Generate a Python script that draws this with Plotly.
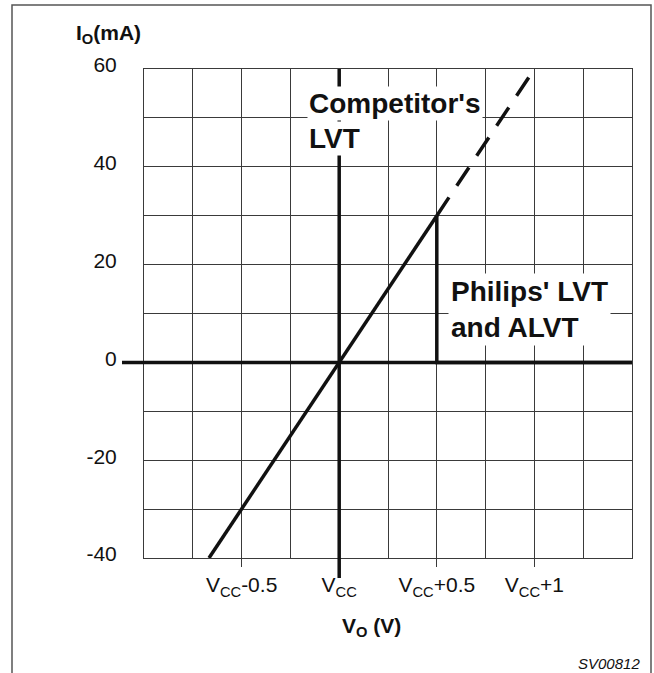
import plotly.graph_objects as go

# Data (x in volts relative to VCC, y in mA)
competitor_v = [-0.667, 0.5]
competitor_i = [-40, 30]
competitor_ext_v = [0.5, 1.0]
competitor_ext_i = [30, 60]
philips_v = [0.5, 0.5, 1.5]
philips_i = [30, 0, 0]

x_tickvals = [-0.5, 0, 0.5, 1]
x_ticktext = ["V<sub>CC</sub>-0.5", "V<sub>CC</sub>", "V<sub>CC</sub>+0.5", "V<sub>CC</sub>+1"]
y_tickvals = [-40, -20, 0, 20, 40, 60]
y_ticktext = ["-40", "-20", "0", "20", "40", "60"]

FONT = "Liberation Sans, Arial, Helvetica, sans-serif"
GRID = "#3a3a3a"
LW = 3.5
TF = 21

fig = go.Figure()
fig.add_trace(go.Scatter(x=competitor_v, y=competitor_i, mode="lines",
                         line=dict(color="#111", width=LW), showlegend=False))
fig.add_trace(go.Scatter(x=competitor_ext_v, y=competitor_ext_i, mode="lines",
                         line=dict(color="#111", width=LW, dash="22px,14px"), showlegend=False))
fig.add_trace(go.Scatter(x=philips_v, y=philips_i, mode="lines",
                         line=dict(color="#111", width=LW), showlegend=False))

# thick axes through origin
fig.add_shape(type="line", xref="paper", yref="y", x0=-22/488, x1=1, y0=0, y1=0,
              line=dict(color="#111", width=LW))
fig.add_shape(type="line", xref="x", yref="paper", x0=0, x1=0, y0=-20/489, y1=1,
              line=dict(color="#111", width=LW))

# outer frame (open at bottom)
L, R, T, B = (12-144)/488, (651-144)/488, 1+(69-5)/489, -(673-558)/489
fig.add_shape(type="path", xref="paper", yref="paper",
              path=f"M {L} {B} L {L} {T} L {R} {T} L {R} {B}",
              line=dict(color="#555", width=1.5))

fig.add_annotation(x=-0.165, y=56.6, xref="x", yref="y", xanchor="left", yanchor="top",
                   text="<b>Competitor's</b>", showarrow=False, align="left",
                   bgcolor="white", borderpad=1,
                   font=dict(family=FONT, size=28, color="#111"))
fig.add_annotation(x=-0.165, y=49.3, xref="x", yref="y", xanchor="left", yanchor="top",
                   text="<b>LVT</b>", showarrow=False, align="left",
                   bgcolor="white", borderpad=1,
                   font=dict(family=FONT, size=28, color="#111"))
fig.add_annotation(x=0.555, y=18.2, xref="x", yref="y", xanchor="left", yanchor="top",
                   text="<b>Philips' LVT<br>and ALVT</b>", showarrow=False, align="left",
                   bgcolor="white", borderpad=2,
                   font=dict(family=FONT, size=28, color="#111"))

fig.add_annotation(x=(74-144)/488, y=1+(69-34)/489, xref="paper", yref="paper",
                   xanchor="left", yanchor="middle", showarrow=False,
                   text="<b>I<sub>O</sub>(mA)</b>", font=dict(family=FONT, size=TF, color="#111"))
fig.add_annotation(x=(340-144)/488, y=-(627-558)/489, xref="paper", yref="paper",
                   xanchor="left", yanchor="middle", showarrow=False,
                   text="<b>V<sub>O</sub> (V)</b>", font=dict(family=FONT, size=TF, color="#111"))
fig.add_annotation(x=(642-144)/488, y=-(663-558)/489, xref="paper", yref="paper",
                   xanchor="right", yanchor="middle", showarrow=False,
                   text="<i>SV00812</i>", font=dict(family=FONT, size=15, color="#111"))

fig.update_xaxes(range=[-1, 1.5], tickmode="array", tickvals=x_tickvals, ticktext=x_ticktext,
                 ticks="outside", ticklen=8, tickwidth=1, tickcolor=GRID,
                 showgrid=True, gridcolor=GRID, gridwidth=1,
                 minor=dict(dtick=0.25, tick0=0, showgrid=True, gridcolor=GRID, gridwidth=1, ticks=""),
                 showline=True, mirror=True, linecolor=GRID, linewidth=1, zeroline=False,
                 tickfont=dict(family=FONT, size=TF, color="#111"), fixedrange=True)
fig.update_yaxes(range=[-40, 60], tickmode="array", tickvals=y_tickvals, ticktext=y_ticktext,
                 ticks="outside", ticklen=22, tickcolor="rgba(0,0,0,0)", ticklabelshift=-4,
                 showgrid=True, gridcolor=GRID, gridwidth=1,
                 minor=dict(dtick=10, tick0=0, showgrid=True, gridcolor=GRID, gridwidth=1, ticks=""),
                 showline=True, mirror=True, linecolor=GRID, linewidth=1, zeroline=False,
                 tickfont=dict(family=FONT, size=TF, color="#111"), fixedrange=True)

fig.update_layout(width=654, height=673, margin=dict(l=144, r=22, t=69, b=115),
                  plot_bgcolor="white", paper_bgcolor="white", showlegend=False)

fig.write_html("out.html", config={"displayModeBar": False},
               post_script="document.body.style.margin='0';document.body.style.overflow='hidden';")
